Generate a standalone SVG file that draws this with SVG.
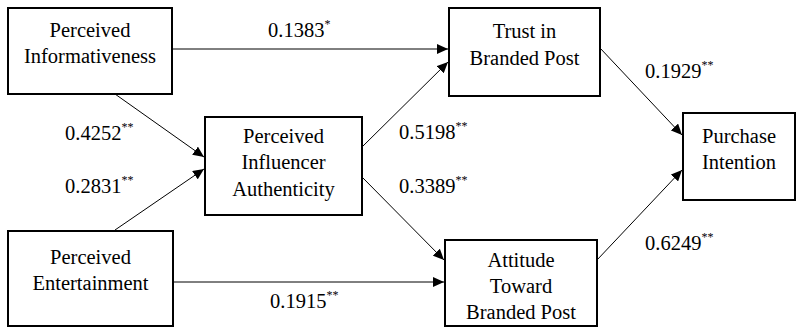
<svg xmlns="http://www.w3.org/2000/svg" width="797" height="328" viewBox="0 0 797 328">
<style>
.box{fill:#fff;stroke:#000;stroke-width:2}
.c{text-anchor:middle}
.sup{font-size:12px}
.ln{stroke:#000;stroke-width:1;fill:none;marker-end:url(#ah)}
</style>
<defs>
<marker id="ah" markerUnits="userSpaceOnUse" markerWidth="12" markerHeight="10" refX="11" refY="5" orient="auto">
<path d="M0,0 L11,5 L0,10 Z" fill="#000"/>
</marker>
</defs>
<rect width="797" height="328" fill="#fff"/>
<g id="connectors">
<line class="ln" x1="172" y1="49" x2="448" y2="49"/>
<line class="ln" x1="115" y1="94" x2="204" y2="157"/>
<line class="ln" x1="115" y1="230" x2="204" y2="169"/>
<line class="ln" x1="362" y1="147" x2="448" y2="62"/>
<line class="ln" x1="362" y1="177" x2="444" y2="260"/>
<line class="ln" x1="173" y1="282" x2="444" y2="282"/>
<line class="ln" x1="600" y1="48" x2="682" y2="135"/>
<line class="ln" x1="597" y1="260" x2="682" y2="170"/>
</g>
<g font-family="Liberation Serif, Tinos, Times New Roman, serif" font-size="20.5" fill="#000">
<g id="labels">
<text x="268" y="37">0.1383<tspan class="sup" dy="-9">*</tspan></text>
<text x="65" y="140">0.4252<tspan class="sup" dy="-9">**</tspan></text>
<text x="65" y="193">0.2831<tspan class="sup" dy="-9">**</tspan></text>
<text x="270" y="308">0.1915<tspan class="sup" dy="-9">**</tspan></text>
<text x="399" y="139">0.5198<tspan class="sup" dy="-9">**</tspan></text>
<text x="399" y="193">0.3389<tspan class="sup" dy="-9">**</tspan></text>
<text x="645" y="78">0.1929<tspan class="sup" dy="-9">**</tspan></text>
<text x="645" y="250">0.6249<tspan class="sup" dy="-9">**</tspan></text>
</g>
<g id="informativeness">
<rect class="box" x="8" y="8" width="164" height="86"/>
<text class="c" x="90" y="37">Perceived</text>
<text class="c" x="90" y="63">Informativeness</text>
</g>
<g id="authenticity">
<rect class="box" x="205" y="117" width="157" height="98"/>
<text class="c" x="283.5" y="143">Perceived</text>
<text class="c" x="283.5" y="169">Influencer</text>
<text class="c" x="283.5" y="196">Authenticity</text>
</g>
<g id="entertainment">
<rect class="box" x="8" y="231" width="165" height="95"/>
<text class="c" x="90.5" y="264">Perceived</text>
<text class="c" x="90.5" y="290">Entertainment</text>
</g>
<g id="trust">
<rect class="box" x="449" y="8" width="151" height="88"/>
<text class="c" x="524.5" y="38">Trust in</text>
<text class="c" x="524.5" y="65">Branded Post</text>
</g>
<g id="purchase">
<rect class="box" x="683" y="113" width="112" height="87"/>
<text class="c" x="739" y="143">Purchase</text>
<text class="c" x="739" y="169">Intention</text>
</g>
<g id="attitude">
<rect class="box" x="445" y="240" width="152" height="86"/>
<text class="c" x="521" y="267">Attitude</text>
<text class="c" x="521" y="293">Toward</text>
<text class="c" x="521" y="319">Branded Post</text>
</g>
</g>
</svg>
